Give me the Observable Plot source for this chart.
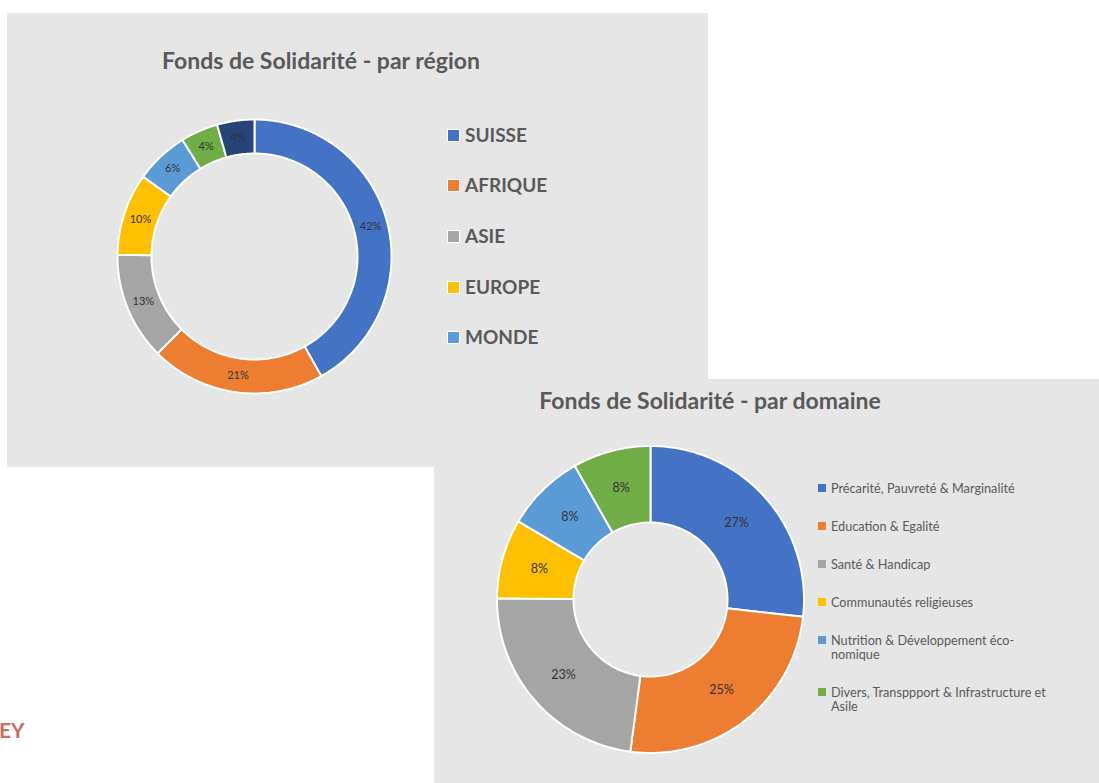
<!DOCTYPE html>
<html>
<head>
<meta charset="utf-8">
<script src="https://cdn.jsdelivr.net/npm/d3@7"></script>
<script src="https://cdn.jsdelivr.net/npm/@observablehq/plot@0.6"></script>
<style>
  html, body { margin: 0; padding: 0; background: #ffffff; }
  body { width: 1099px; height: 783px; position: relative; overflow: hidden; font-family: Lato, "Open Sans", sans-serif; }
  .panel { position: absolute; background: #e6e6e6; }
  .title { position: absolute; width: 500px; text-align: center; font-weight: bold; font-size: 23px; line-height: 20px; color: #595959; white-space: nowrap; }
  .abs { position: absolute; }
  .leg1 { position: absolute; font-weight: bold; font-size: 19px; color: #595959; line-height: 20px; white-space: nowrap; }
  .leg1 .sw { position: absolute; width: 11px; height: 11px; border: 1px solid #fff; left: 0; top: 4px; }
  .leg1 .tx { position: absolute; left: 18px; top: 0; }
  .leg2 { position: absolute; font-size: 12.7px; color: #595959; line-height: 14px; white-space: nowrap; }
  .leg2 .sw { position: absolute; width: 8px; height: 8px; left: 0; top: 3px; }
  .leg2 .tx { position: absolute; left: 13px; top: 0; }
</style>
</head>
<body>
<div id="ey" class="abs" style="left:-1px; top:717px; font-size:21px; font-weight:bold; color:#cc6e62; font-family:Lato;">EY</div>
<div id="panel1" class="panel" style="left:7px; top:13px; width:701px; height:454px;"></div>
<div id="panel2" class="panel" style="left:434px; top:379px; width:665px; height:404px;"></div>
<script>
// ---------- Data ----------
const regionNames = ["SUISSE", "AFRIQUE", "ASIE", "EUROPE", "MONDE", "Autre A", "Autre B"];
const regionValues = [41.9, 20.6, 12.7, 9.7, 6.3, 4.4, 4.4];
const regionLegend = ["SUISSE", "AFRIQUE", "ASIE", "EUROPE", "MONDE"];
const regionTitle = "Fonds de Solidarité - par région";

const domainNames = [
  "Précarité, Pauvreté & Marginalité",
  "Education & Egalité",
  "Santé & Handicap",
  "Communautés religieuses",
  "Nutrition & Développement éco-\nnomique",
  "Divers, Transppport & Infrastructure et\nAsile"
];
const domainValues = [26.8, 25.3, 23.0, 8.4, 8.3, 8.2];
const domainTitle = "Fonds de Solidarité - par domaine";

// ---------- Styles ----------
const regionColors = ["#4472C4", "#ED7D31", "#A5A5A5", "#FFC000", "#5B9BD5", "#70AD47", "#264478"];
const domainColors = ["#4472C4", "#ED7D31", "#A5A5A5", "#FFC000", "#5B9BD5", "#70AD47"];

function arcs(values, names, r0, r1) {
  const total = d3.sum(values);
  const pts = [], labels = [];
  let acc = 0;
  values.forEach((v, i) => {
    const a0 = acc / total * 2 * Math.PI;
    const a1 = (acc + v) / total * 2 * Math.PI;
    acc += v;
    const n = Math.max(2, Math.ceil((a1 - a0) / (Math.PI / 180)));
    for (let k = 0; k <= n; k++) { const t = a0 + (a1 - a0) * k / n; pts.push({name: names[i], x: r1 * Math.sin(t), y: r1 * Math.cos(t)}); }
    for (let k = n; k >= 0; k--) { const t = a0 + (a1 - a0) * k / n; pts.push({name: names[i], x: r0 * Math.sin(t), y: r0 * Math.cos(t)}); }
    const m = (a0 + a1) / 2, rm = (r0 + r1) / 2;
    labels.push({name: names[i], x: rm * Math.sin(m), y: rm * Math.cos(m), label: Math.round(v / total * 100) + "%"});
  });
  return {pts, labels};
}

function donut(values, names, colors, r0, r1, half, fontSize, sw) {
  const {pts, labels} = arcs(values, names, r0, r1);
  return Plot.plot({
    width: 2 * half, height: 2 * half, margin: 0,
    x: {domain: [-half, half], axis: null},
    y: {domain: [-half, half], axis: null},
    color: {domain: names, range: colors},
    style: {background: "transparent", overflow: "visible"},
    marks: [
      Plot.line(pts, {x: "x", y: "y", z: "name", fill: "name", stroke: "#ffffff", strokeWidth: sw, curve: "linear-closed"}),
      Plot.text(labels, {x: "x", y: "y", text: "label", fill: "#333333", fontSize, fontFamily: "Lato"})
    ]
  });
}

// ---------- Panel 1 ----------
const p1 = document.getElementById("panel1");
const t1 = document.createElement("div");
t1.className = "title"; t1.textContent = regionTitle;
t1.style.left = (321 - 7 - 250) + "px"; t1.style.top = "37px";
p1.appendChild(t1);

const d1 = donut(regionValues, regionNames, regionColors, 103, 137, 145, 11, 2);
const w1 = document.createElement("div");
w1.className = "abs"; w1.style.left = (254 - 7 - 145) + "px"; w1.style.top = (256 - 13 - 145) + "px";
w1.appendChild(d1); p1.appendChild(w1);

const leg1Y = [122, 172, 223, 274, 324];
regionLegend.forEach((name, i) => {
  const it = document.createElement("div");
  it.className = "leg1";
  it.style.left = "440px"; it.style.top = (leg1Y[i] - 10) + "px";
  const sw = document.createElement("div"); sw.className = "sw"; sw.style.background = regionColors[regionNames.indexOf(name)];
  const tx = document.createElement("div"); tx.className = "tx"; tx.textContent = name;
  it.appendChild(sw); it.appendChild(tx); p1.appendChild(it);
});

// ---------- Panel 2 ----------
const p2 = document.getElementById("panel2");
const t2 = document.createElement("div");
t2.className = "title"; t2.textContent = domainTitle;
t2.style.left = (710 - 434 - 250) + "px"; t2.style.top = "11px";
p2.appendChild(t2);

const d2 = donut(domainValues, domainNames, domainColors, 77, 153.5, 160, 12.5, 2);
const w2 = document.createElement("div");
w2.className = "abs"; w2.style.left = (650 - 434 - 160) + "px"; w2.style.top = (599 - 379 - 160) + "px";
w2.appendChild(d2); p2.appendChild(w2);

const leg2Y = [109, 147, 185, 223, 261, 313];
domainNames.forEach((name, i) => {
  const it = document.createElement("div");
  it.className = "leg2";
  it.style.left = (818 - 434) + "px"; it.style.top = (leg2Y[i] - 7) + "px";
  const sw = document.createElement("div"); sw.className = "sw"; sw.style.background = domainColors[i];
  const tx = document.createElement("div"); tx.className = "tx";
  name.split("\n").forEach((line, j) => { if (j) tx.appendChild(document.createElement("br")); tx.appendChild(document.createTextNode(line)); });
  it.appendChild(sw); it.appendChild(tx); p2.appendChild(it);
});
</script>
</body>
</html>
